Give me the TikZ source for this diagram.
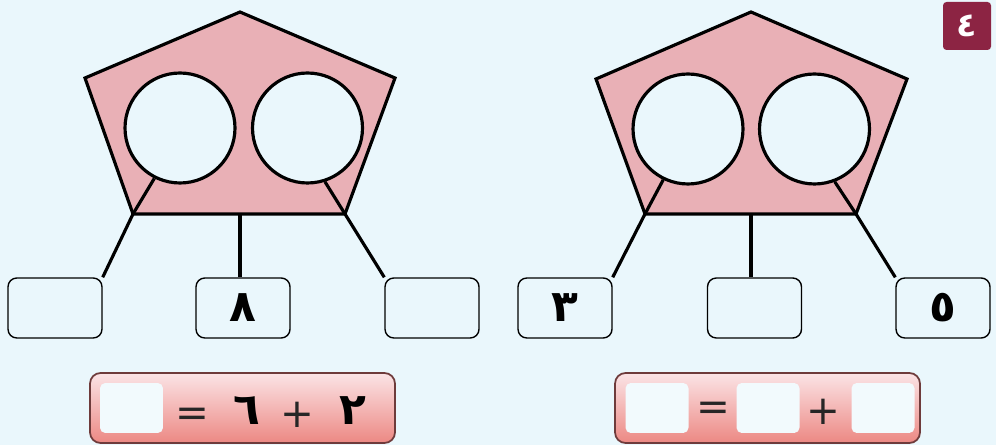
\documentclass[tikz,border=0pt]{standalone}
\usepackage{fontspec}
\newfontfamily\arabicfont[Script=Arabic]{DejaVu Sans}
\usetikzlibrary{calc}
\definecolor{bgblue}{HTML}{EAF7FC}
\definecolor{pentpink}{HTML}{E9B0B6}
\definecolor{badgered}{HTML}{8C2443}
\definecolor{bartop}{HTML}{FBE4E6}
\definecolor{barbot}{HTML}{EC8883}
\definecolor{barline}{HTML}{6E3B3B}
\definecolor{cellwhite}{HTML}{F2FAFD}

\begin{document}
\begin{tikzpicture}[x=0.02cm,y=-0.02cm,
   pent/.style={draw,line width=1.8pt,fill=pentpink,line join=miter},
   hole/.style={circle,draw,line width=1.8pt,fill=bgblue,minimum size=2.2cm,inner sep=0pt},
   numbox/.style={draw,line width=0.8pt,fill=bgblue,rounded corners=5pt,minimum width=1.88cm,
     minimum height=1.2cm,inner sep=0pt,font=\arabicfont\bfseries\fontsize{25}{26}\selectfont},
   link/.style={line width=1.8pt},
   bar/.style={draw=barline,line width=1pt,rounded corners=6pt,top color=bartop,bottom color=barbot,
     minimum width=6.1cm,minimum height=1.4cm,inner sep=0pt},
   cell/.style={fill=cellwhite,rounded corners=3pt,minimum width=1.26cm,minimum height=1cm,inner sep=0pt},
   sign/.style={font=\arabicfont\fontsize{23}{23}\selectfont,text=black!85,inner sep=0pt},
   digit/.style={font=\arabicfont\bfseries\fontsize{25}{26}\selectfont,inner sep=0pt}]
  \fill[bgblue] (0,0) rectangle (996,445);
  \useasboundingbox (0,0) rectangle (996,445);

  \draw[pent] (240,12) coordinate (At) -- (395,78) coordinate (Ar) -- (345,214) coordinate (Abr)
    -- (133,214) coordinate (Abl) -- (85,78) coordinate (Al) -- cycle;
  \coordinate (Ab) at (240,214);
  \node[hole] (A1) at (180,128) {};
  \node[hole] (A2) at (307.5,128) {};
  \node[numbox] (Aleft)  at (55,308) {};
  \node[numbox] (Amid)   at (243,308) {٨};
  \node[numbox] (Aright) at (432,308) {};
  \draw[link] (A1.243) -- (Abl) -- (Aleft.north east);
  \draw[link] (A2.288) -- (Abr) -- (Aright.north west);
  \draw[link] (Ab) -- (Ab |- Amid.north);

  \draw[pent] (751,12) coordinate (Bt) -- (907,79) coordinate (Br) -- (856,214) coordinate (Bbr)
    -- (645,214) coordinate (Bbl) -- (596,79) coordinate (Bl) -- cycle;
  \coordinate (Bb) at (751,214);
  \node[hole] (B1) at (688,129) {};
  \node[hole] (B2) at (814.5,129) {};
  \node[numbox] (Bleft)  at (565,308) {٣};
  \node[numbox] (Bmid)   at (754.5,308) {};
  \node[numbox] (Bright) at (943,308) {٥};
  \draw[link] (B1.244) -- (Bbl) -- (Bleft.north east);
  \draw[link] (B2.291) -- (Bbr) -- (Bright.north west);
  \draw[link] (Bb) -- (Bb |- Bmid.north);

  \node[bar] (Abar) at (242.5,408) {};
  \node[cell] (Acell) at (131.5,408) {};
  \node[sign] (Aeq) at (192,417) {=};
  \node[digit] (Asix) at (247,411) {٦};
  \node[sign] (Aplus) at (297,415) {+};
  \node[digit] (Atwo) at (353,411) {٢};

  \node[bar] (Bbar) at (767.5,408) {};
  \node[cell] (Bcell1) at (657,408) {};
  \node[sign] (Beq) at (713,411) {=};
  \node[cell] (Bcell2) at (768,408) {};
  \node[sign] (Bplus) at (823,412) {+};
  \node[cell] (Bcell3) at (883,408) {};

  \node[fill=badgered,rounded corners=2pt,minimum size=0.96cm,inner sep=0pt,text=white,
    font=\arabicfont\bfseries\fontsize{19}{19}\selectfont] (num) at (967,26) {٤};
\end{tikzpicture}
\end{document}
